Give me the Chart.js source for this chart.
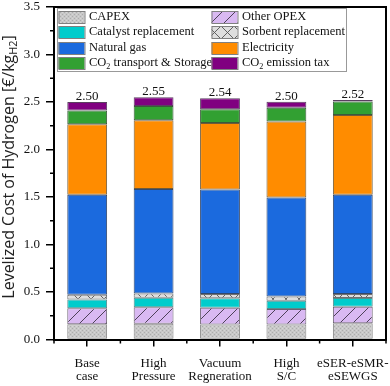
<!DOCTYPE html>
<html>
<head>
<meta charset="utf-8">
<script src="https://cdn.jsdelivr.net/npm/chart.js@4.4.1/dist/chart.umd.min.js"></script>
<style>
  html, body { margin: 0; padding: 0; background: #fff; }
  #wrap { width: 390px; height: 386px; position: relative; }
</style>
</head>
<body>
<div id="wrap"><canvas id="c"></canvas></div>
<script>
// ---- Data ----
const categories = [['Base','case'],['High','Pressure'],['Vacuum','Regneration'],['High','S/C'],['eSER-eSMR-','eSEWGS']];
const capex        = [0.160, 0.165, 0.157, 0.157, 0.172];
const otherOpex    = [0.170, 0.175, 0.177, 0.163, 0.172];
const catalyst     = [0.090, 0.100, 0.100, 0.088, 0.092];
const sorbent      = [0.050, 0.045, 0.045, 0.045, 0.043];
const naturalGas   = [1.055, 1.100, 1.100, 1.041, 1.046];
const electricity  = [0.742, 0.724, 0.700, 0.800, 0.837];
const co2Transport = [0.143, 0.149, 0.145, 0.146, 0.143];
const co2Tax       = [0.090, 0.092, 0.116, 0.063, 0.017];
const totalLabels  = ['2.50', '2.55', '2.54', '2.50', '2.52'];
const yTicks       = [0, 0.5, 1.0, 1.5, 2.0, 2.5, 3.0, 3.5];

// ---- Patterns ----
function tile(size, draw) {
  const c = document.createElement('canvas');
  c.width = size; c.height = size;
  const g = c.getContext('2d');
  draw(g, size);
  return document.createElement('canvas').getContext('2d').createPattern(c, 'repeat');
}
const capexPat = tile(4, (g, s) => {
  g.fillStyle = '#c8c8c8'; g.fillRect(0, 0, s, s);
  g.fillStyle = '#adadad'; g.fillRect(0, 0, 1, 1); g.fillRect(2, 2, 1, 1);
  g.fillStyle = '#d6d6d6'; g.fillRect(2, 0, 1, 1); g.fillRect(0, 2, 1, 1);
});
const opexPat = tile(13, (g, s) => {
  g.fillStyle = '#d9b9f2'; g.fillRect(0, 0, s, s);
  g.strokeStyle = '#3d3346'; g.lineWidth = 0.9;
  g.beginPath(); g.moveTo(-2, s + 2); g.lineTo(s + 2, -2); g.stroke();
});
const sorbPat = tile(13, (g, s) => {
  g.fillStyle = '#dedede'; g.fillRect(0, 0, s, s);
  g.strokeStyle = '#555'; g.lineWidth = 0.9;
  g.beginPath(); g.moveTo(0, 0); g.lineTo(s, s); g.moveTo(0, s); g.lineTo(s, 0); g.stroke();
});

const SERIF = '"Liberation Serif", "DejaVu Serif", serif';

function ds(label, data, bg, border) {
  return { label, data, backgroundColor: bg, borderColor: border, borderWidth: 1,
           borderSkipped: false, barPercentage: 0.6, categoryPercentage: 1.0 };
}
const datasets = [
  ds('CAPEX', capex, capexPat, '#858585'),
  ds('Other OPEX', otherOpex, opexPat, '#6a6070'),
  ds('Catalyst replacement', catalyst, '#00cccc', '#5a8a8a'),
  ds('Sorbent replacement', sorbent, sorbPat, '#707070'),
  ds('Natural gas', naturalGas, '#1b6ade', '#34486a'),
  ds('Electricity', electricity, '#ff8c00', '#6e5a3a'),
  ds('CO₂ transport & Storage', co2Transport, '#32a032', '#3a5a3a'),
  ds('CO₂ emission tax', co2Tax, '#800080', '#5a4060'),
];

function drawRich(ctx, text, x, y, size) {
  const parts = text.split('₂');
  let cx = x;
  ctx.textBaseline = 'middle';
  ctx.textAlign = 'left';
  parts.forEach((p, i) => {
    ctx.font = size + 'px ' + SERIF;
    ctx.fillText(p, cx, y);
    cx += ctx.measureText(p).width;
    if (i < parts.length - 1) {
      ctx.font = (size * 0.65) + 'px ' + SERIF;
      ctx.fillText('2', cx, y + size * 0.3);
      cx += ctx.measureText('2').width;
    }
  });
}

const extras = {
  id: 'extras',
  afterDraw(chart) {
    const { ctx, chartArea: a, scales } = chart;
    const ys = scales.y, xs = scales.x;
    ctx.save();
    // frame top & right
    ctx.strokeStyle = '#000'; ctx.lineWidth = 2;
    ctx.beginPath();
    ctx.moveTo(a.left - 1, a.top); ctx.lineTo(a.right, a.top); ctx.lineTo(a.right, a.bottom + 1);
    ctx.stroke();
    // minor y ticks
    ctx.lineWidth = 1.5;
    ctx.beginPath();
    for (let i = 0; i < yTicks.length - 1; i++) {
      const v = (yTicks[i] + yTicks[i + 1]) / 2;
      const py = ys.getPixelForValue(v);
      ctx.moveTo(a.left - 4, py); ctx.lineTo(a.left, py);
    }
    // minor x ticks at category boundaries
    for (let i = 0; i <= categories.length; i++) {
      const px = xs.getPixelForValue(i - 0.5);
      ctx.moveTo(px, a.bottom); ctx.lineTo(px, a.bottom + 4);
    }
    ctx.stroke();

    // totals
    const last = chart.getDatasetMeta(datasets.length - 1);
    ctx.fillStyle = '#111';
    ctx.font = '13px ' + SERIF;
    ctx.textAlign = 'center'; ctx.textBaseline = 'alphabetic';
    last.data.forEach((el, i) => {
      ctx.fillText(totalLabels[i], el.x, el.y - 2);
    });

    // legend box
    const lx = a.left + 3, ly = a.top + 1, lw = 289, lh = 63;
    ctx.fillStyle = '#fff';
    ctx.fillRect(lx, ly, lw, lh);
    ctx.strokeStyle = '#999'; ctx.lineWidth = 1;
    ctx.strokeRect(lx + 0.5, ly + 0.5, lw, lh);
    const colX = [lx + 1.5, lx + 154.5];
    const rowY = [9.7, 25.2, 40.6, 55.8].map(v => a.top + v);
    const order = [[0, 1], [2, 3], [4, 5], [6, 7]];
    order.forEach((pair, r) => {
      pair.forEach((di, c) => {
        const d = datasets[di];
        const sx = colX[c], sy = Math.round(rowY[r] - 6);
        ctx.fillStyle = d.backgroundColor;
        ctx.fillRect(sx, sy, 26, 12);
        ctx.strokeStyle = '#808080'; ctx.lineWidth = 1;
        ctx.strokeRect(sx + 0.5, sy + 0.5, 26, 12);
        ctx.fillStyle = '#111';
        drawRich(ctx, d.label, sx + 30.5, rowY[r], 12.5);
      });
    });

    // y axis title
    const main = 'Levelized Cost of Hydrogen [€/kg';
    const fam = '"Open Sans", Lato, sans-serif';
    const target = 274;
    ctx.font = '10px ' + fam;
    const base = ctx.measureText(main).width + 0.68 * ctx.measureText('H2').width + ctx.measureText(']').width;
    const fs = Math.min(16, 10 * target / base);
    ctx.font = fs + 'px ' + fam;
    const w1 = ctx.measureText(main).width;
    const w3 = ctx.measureText(']').width;
    ctx.font = (fs * 0.68) + 'px ' + fam;
    const w2 = ctx.measureText('H2').width;
    const total = w1 + w2 + w3;
    ctx.translate(9, 167);
    ctx.rotate(-Math.PI / 2);
    ctx.fillStyle = '#222';
    ctx.textAlign = 'left'; ctx.textBaseline = 'middle';
    let cx = -total / 2;
    ctx.font = fs + 'px ' + fam;
    ctx.fillText(main, cx, 0); cx += w1;
    ctx.font = (fs * 0.68) + 'px ' + fam;
    ctx.fillText('H2', cx, fs * 0.3); cx += w2;
    ctx.font = fs + 'px ' + fam;
    ctx.fillText(']', cx, 0);
    ctx.restore();
  }
};

new Chart(document.getElementById('c'), {
  type: 'bar',
  data: { labels: categories, datasets },
  options: {
    responsive: true, maintainAspectRatio: false, animation: false,
    layout: { padding: { top: 7, right: 4, left: 0, bottom: 0 } },
    plugins: { legend: { display: false }, tooltip: { enabled: false } },
    scales: {
      x: {
        stacked: true,
        grid: { drawOnChartArea: false, offset: false, tickLength: 7, color: '#000', lineWidth: 1.5 },
        border: { display: true, color: '#000', width: 2 },
        ticks: { color: '#111', font: { family: SERIF, size: 13, lineHeight: 1.05 }, padding: 10, maxRotation: 0, autoSkip: false },
        afterFit(s) { s.height = 46.5; s.paddingLeft = 0; s.paddingRight = 0; }
      },
      y: {
        stacked: true, min: 0, max: 3.5,
        afterBuildTicks(s) { s.ticks = yTicks.map(v => ({ value: v })); },
        grid: { drawOnChartArea: false, tickLength: 8, color: '#000', lineWidth: 1.5 },
        border: { display: true, color: '#000', width: 2 },
        ticks: { color: '#111', font: { family: SERIF, size: 13 }, padding: 6,
                 callback: v => Number(v).toFixed(1) },
        afterFit(s) { s.width = 54; s.paddingTop = 0; s.paddingBottom = 0; }
      }
    }
  },
  plugins: [extras]
});
</script>
</body>
</html>
